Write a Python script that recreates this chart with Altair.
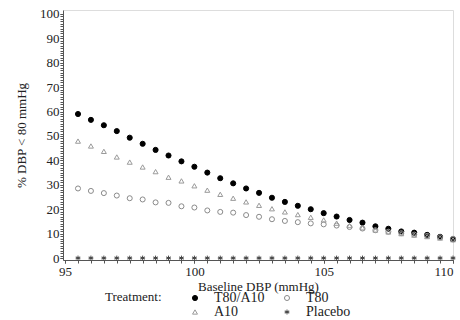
import altair as alt
import pandas as pd

x_vals = [95.5, 96, 96.5, 97, 97.5, 98, 98.5, 99, 99.5, 100, 100.5, 101, 101.5, 102, 102.5,
          103, 103.5, 104, 104.5, 105, 105.5, 106, 106.5, 107, 107.5, 108, 108.5, 109, 109.5, 110]

t80a10 = [59.0, 56.6, 54.4, 52.0, 49.3, 46.8, 44.3, 42.0, 39.6, 37.4, 35.0, 32.7, 30.6, 28.5, 26.7,
          24.7, 23.0, 21.4, 20.0, 18.4, 17.0, 15.6, 14.5, 13.0, 12.0, 10.9, 10.4, 9.5, 8.7, 7.7]
a10 = [47.9, 45.9, 43.7, 41.4, 39.3, 37.3, 35.4, 33.1, 31.6, 29.6, 27.8, 26.1, 24.5, 23.0, 21.6,
       20.2, 18.9, 17.8, 16.7, 15.6, 14.3, 13.3, 12.4, 11.5, 10.7, 10.0, 9.4, 8.8, 8.2, 7.5]
t80 = [28.5, 27.5, 26.6, 25.6, 24.5, 24.0, 22.8, 22.6, 21.2, 20.7, 19.5, 18.9, 18.6, 17.6, 16.9,
       15.9, 15.2, 14.7, 14.2, 13.8, 13.3, 12.7, 12.1, 11.4, 10.8, 10.2, 9.6, 9.1, 8.5, 7.9]
placebo = [0.0] * 30

groups = ["T80/A10", "T80", "A10", "Placebo"]
series = {"T80/A10": t80a10, "T80": t80, "A10": a10, "Placebo": placebo}

rows = []
for g in groups:
    for xv, yv in zip(x_vals, series[g]):
        rows.append({"dbp": xv, "pct": yv, "Treatment": g})
df = pd.DataFrame(rows)

y_major = list(range(0, 101, 10))
y_minor = [float(v) for v in range(0, 101, 1)]
x_major = [95, 100, 105, 110]
x_minor = [95 + 0.5 * i for i in range(31)]

FONT = "Liberation Serif"
TXT = "#222222"
star = "M0,-1L0,1M-0.87,-0.5L0.87,0.5M-0.87,0.5L0.87,-0.5M-1,0L1,0"

XDOM = [94.92, 110]
YDOM = [-0.8, 101.6]

legend = alt.Legend(
    title="Treatment:", orient="none", legendX=42, legendY=281, columns=2,
    direction="horizontal", titleOrient="left", titleAnchor="start",
    titleFont=FONT, titleFontSize=13,
    titleFontWeight="normal", titleColor=TXT, labelFont=FONT, labelFontSize=14,
    labelColor=TXT, rowPadding=-4, columnPadding=15, titlePadding=26,
    symbolStrokeWidth=1, labelOffset=12,
)

# minor-tick layer first: its axes sit directly on the plot edge
minor = alt.Chart(df).mark_point(opacity=0).encode(
    x=alt.X("dbp:Q", scale=alt.Scale(domain=XDOM, nice=False, zero=False),
            axis=alt.Axis(values=x_minor, labels=False, title=None,
            tickSize=3, tickWidth=1, domain=True, domainColor="#555", grid=False,
            orient="bottom", tickColor="#555")),
    y=alt.Y("pct:Q", scale=alt.Scale(domain=YDOM, nice=False, zero=False),
            axis=alt.Axis(values=y_minor, labels=False, title=None,
            tickSize=3, tickWidth=1, domain=True, domainColor="#555", grid=False,
            orient="left", tickColor="#555")),
)

points = alt.Chart(df).mark_point(strokeWidth=1, opacity=1).encode(
    x=alt.X("dbp:Q", scale=alt.Scale(domain=XDOM, nice=False, zero=False),
            axis=alt.Axis(values=x_major, title="Baseline DBP (mmHg)", orient="bottom",
            labelFont=FONT, titleFont=FONT, labelFontSize=13, titleFontSize=13,
            titleFontWeight="normal", labelColor=TXT, titleColor=TXT, grid=False,
            domain=False, tickSize=3, tickColor="#555", titlePadding=2, labelPadding=2)),
    y=alt.Y("pct:Q", scale=alt.Scale(domain=YDOM, nice=False, zero=False),
            axis=alt.Axis(values=y_major, title="% DBP < 80 mmHg", orient="left",
            labelFont=FONT, titleFont=FONT, labelFontSize=13, titleFontSize=13,
            titleFontWeight="normal", labelColor=TXT, titleColor=TXT, grid=False,
            domain=False, tickSize=3, tickColor="#555", titlePadding=11, labelPadding=1)),
    shape=alt.Shape("Treatment:N", scale=alt.Scale(domain=groups,
                    range=["circle", "circle", "triangle-up", star]), legend=legend, sort=groups),
    color=alt.Color("Treatment:N", scale=alt.Scale(domain=groups,
                    range=["#000000", "#8a8a8a", "#9a9a9a", "#444444"]), legend=legend, sort=groups),
    fill=alt.Fill("Treatment:N", scale=alt.Scale(domain=groups,
                  range=["#000000", "transparent", "transparent", "transparent"]), legend=legend, sort=groups),
    size=alt.Size("Treatment:N", scale=alt.Scale(domain=groups, range=[26, 24, 24, 40]),
                  legend=legend, sort=groups),
)

chart = alt.layer(minor, points).resolve_scale(x="independent", y="independent").properties(
    width=390, height=250,
    autosize=alt.AutoSizeParams(type="none"),
    padding={"left": 63, "top": 10, "right": 7, "bottom": 60},
).configure_view(stroke="#999", strokeWidth=1.5).configure(background="white")

chart.save("out.html", embed_options={"renderer": "svg", "actions": False})
